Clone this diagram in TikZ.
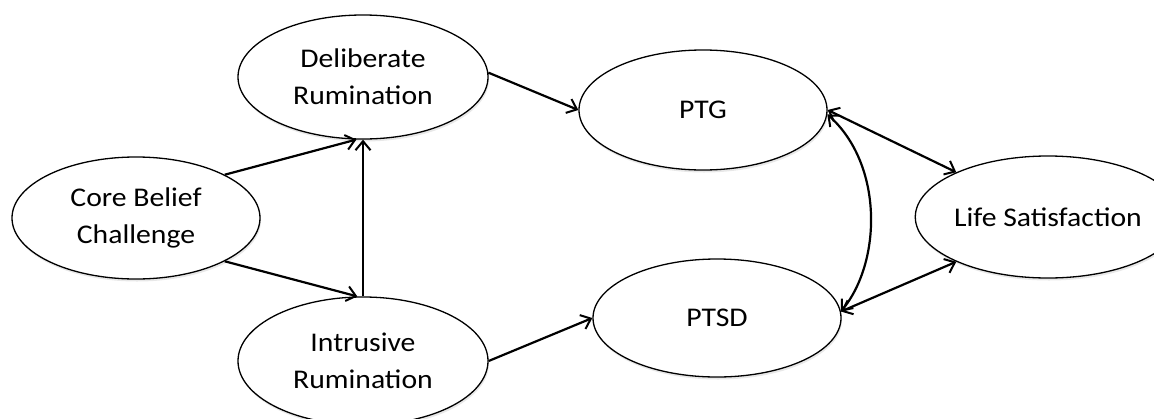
\documentclass[tikz,border=0pt]{standalone}
\usepackage{fontspec}
\setmainfont{Carlito}[FakeStretch=1.1]
\usetikzlibrary{arrows.meta,shapes.geometric,shadows}
\begin{document}
\begin{tikzpicture}[x=1pt,y=-1pt,
  latent/.style={ellipse,draw=black,line width=1.3pt,fill=white,inner sep=0pt,
    drop shadow={opacity=0.18,shadow xshift=1pt,shadow yshift=-2.5pt},
    align=center,font=\fontsize{27}{37}\selectfont},
  path/.style={line width=2.2pt,-{Straight Barb[length=9pt,width=15pt,line width=2pt]}},
  twoway/.style={line width=2.2pt,{Straight Barb[length=9pt,width=15pt,line width=2pt]}-{Straight Barb[length=9pt,width=15pt,line width=2pt]}}]
\useasboundingbox (0,0) rectangle (1154,418);
\begin{scope}
\clip (0,0) rectangle (1154,418);
\node[latent,minimum width=248pt,minimum height=122pt] (cbc) at (136,218) {Core Belief\\Challenge};
\node[latent,minimum width=250pt,minimum height=124pt] (dr) at (363,77) {Deliberate\\Rumination};
\node[latent,minimum width=250pt,minimum height=128pt] (ir) at (363,361) {Intrusive\\Rumination};
\node[latent,minimum width=248pt,minimum height=120pt] (ptg) at (703,110) {PTG};
\node[latent,minimum width=248pt,minimum height=118pt] (ptsd) at (717,318) {PTSD};
\node[latent,minimum width=258pt,minimum height=122pt] (ls) at (1048,217) {Life Satisfaction};
\end{scope}
\draw[path] (cbc.26) -- (dr.-96);
\draw[path] (cbc.-26) -- (ir.95);
\draw[path] (ir.north) -- (dr.south);
\draw[path] (dr.2) -- (ptg.180);
\draw[path] (ir.0) -- (ptsd.180);
\draw[twoway] (ptg.0) -- (ls.154);
\draw[twoway] (ptsd.3) -- (ls.-154);
\draw[twoway] (ptg.-2) .. controls +(56,50) and +(41,-50) .. (ptsd.3);
\end{tikzpicture}
\end{document}
